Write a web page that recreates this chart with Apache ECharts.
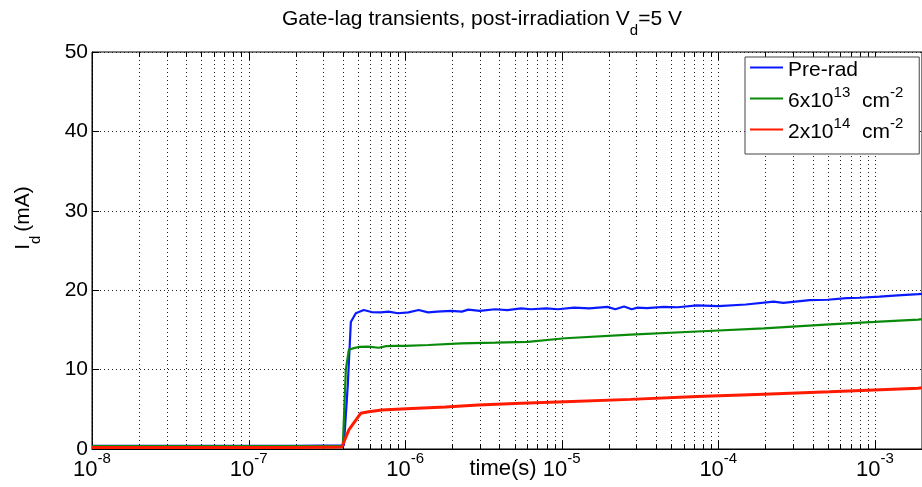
<!DOCTYPE html>
<html><head><meta charset="utf-8">
<script src="https://cdn.jsdelivr.net/npm/echarts@6/dist/echarts.min.js"></script>
<style>html,body{margin:0;padding:0;background:#fff}#c{width:922px;height:487px}</style>
</head><body><div id="c"></div>
<script>
// ---- data ----
const seriesNames = ['Pre-rad', '6x10^13 cm^-2', '2x10^14 cm^-2'];
const legendLabels = ['{n|Pre-rad}', '{n|6x10}{s|13}{n|  cm}{s|-2}', '{n|2x10}{s|14}{n|  cm}{s|-2}'];
const seriesColors = ['#0a1aff', '#0a8a0a', '#ff1a00'];

const preRadT = [1e-8, 1e-7, 2e-7, 4.06e-7, 4.3e-7, 4.5e-7, 4.84e-7, 5.44e-7, 6.1e-7, 7e-7, 7.84e-7, 9e-7, 1.05e-6, 1.22e-6, 1.4e-6, 1.6e-6, 1.97e-6, 2.3e-6, 2.53e-6, 3e-6, 3.76e-6, 4.5e-6, 5.5e-6, 6.37e-6, 8e-6, 9.45e-6, 1.2e-5, 1.5e-5, 1.96e-5, 2.2e-5, 2.5e-5, 2.8e-5, 3.05e-5, 3.5e-5, 4.5e-5, 5.5e-5, 7.33e-5, 1e-4, 1.5e-4, 2.26e-4, 2.6e-4, 3.84e-4, 5e-4, 6.59e-4, 8e-4, 1.07e-3, 1.4e-3, 1.89e-3, 2e-3];
const preRadY = [0.4, 0.4, 0.4, 0.45, 8, 16.0, 17.1, 17.5, 17.25, 17.2, 17.3, 17.1, 17.2, 17.5, 17.2, 17.3, 17.4, 17.3, 17.55, 17.4, 17.6, 17.5, 17.7, 17.6, 17.7, 17.6, 17.8, 17.7, 17.9, 17.6, 17.95, 17.6, 17.8, 17.75, 17.9, 17.85, 18.1, 18.0, 18.2, 18.55, 18.4, 18.75, 18.8, 19.0, 19.05, 19.2, 19.35, 19.5, 19.55];

const fluence1T = [1e-8, 1e-7, 2e-7, 4.0e-7, 4.18e-7, 4.37e-7, 4.7e-7, 5.06e-7, 5.8e-7, 6.77e-7, 7.6e-7, 8.69e-7, 1.0e-6, 1.41e-6, 2.28e-6, 3.76e-6, 6.09e-6, 1.05e-5, 2.75e-5, 7.33e-5, 1.95e-4, 5.14e-4, 1e-3, 1.89e-3, 2e-3];
const fluence1Y = [0.35, 0.35, 0.35, 0.4, 10, 12.5, 12.7, 12.85, 12.9, 12.75, 12.95, 13.0, 13.0, 13.1, 13.3, 13.4, 13.5, 13.95, 14.4, 14.8, 15.2, 15.7, 16.0, 16.3, 16.35];

const fluence2T = [1e-8, 1e-7, 2e-7, 3.94e-7, 4.37e-7, 4.84e-7, 5.2e-7, 5.85e-7, 7.08e-7, 1.1e-6, 1.81e-6, 2.93e-6, 5.5e-6, 1.05e-5, 2.75e-5, 7.33e-5, 1.95e-4, 5.14e-4, 1.89e-3, 2e-3];
const fluence2Y = [0.2, 0.2, 0.2, 0.25, 2.4, 3.65, 4.5, 4.7, 4.9, 5.1, 5.3, 5.55, 5.75, 5.95, 6.25, 6.6, 6.9, 7.2, 7.65, 7.7];

const xMin = 1e-8, xMax = 2e-3;
const yMin = 0, yMax = 50, yStep = 10;

// grid line positions of the log axis (1..9 x each decade)
const gridXs = [];
for (let e = -8; e <= -3; e++) for (let k = 1; k <= 9; k++) { const v = k * Math.pow(10, e); if (v <= xMax * 1.0001) gridXs.push([v, k === 1 ? 1 : 0]); }

const FONT = '"Liberation Sans", Arial, Helvetica, sans-serif';
const zip = (a, b) => a.map((t, i) => [t, b[i]]);

const chart = echarts.init(document.getElementById('c'), null, { renderer: 'canvas' });
chart.setOption({
  animation: false,
  backgroundColor: '#fff',
  textStyle: { fontFamily: FONT },
  title: {
    text: '{t|Gate-lag transients, post-irradiation V}{sub|d}{t|=5 V}',
    left: 277, top: 4,
    textStyle: {
      fontWeight: 'normal',
      rich: {
        t: { fontFamily: FONT, fontWeight: 'normal', fontSize: 21, color: '#000', lineHeight: 29, verticalAlign: 'top' },
        sub: { fontFamily: FONT, fontWeight: 'normal', fontSize: 15, color: '#000', lineHeight: 29, verticalAlign: 'bottom' }
      }
    }
  },
  grid: { left: 92, right: -4, top: 52, bottom: 38, show: true, borderColor: '#000', borderWidth: 1, backgroundColor: 'transparent' },
  legend: {
    left: 745, top: 57, orient: 'vertical',
    data: seriesNames,
    itemWidth: 33, itemHeight: 2, itemGap: 4,
    icon: 'rect',
    padding: [3, 16, 11, 5],
    backgroundColor: '#fff', borderColor: '#444', borderWidth: 1,
    formatter: name => legendLabels[seriesNames.indexOf(name)],
    textStyle: {
      rich: {
        n: { fontFamily: FONT, fontSize: 21, color: '#000', lineHeight: 27, verticalAlign: 'bottom' },
        s: { fontFamily: FONT, fontSize: 15, color: '#000', lineHeight: 27, verticalAlign: 'top' }
      }
    }
  },
  xAxis: {
    type: 'log', logBase: 10, min: xMin, max: xMax,
    axisLine: { lineStyle: { color: '#000', width: 1 } },
    axisTick: { show: false }, splitLine: { show: false }, minorTick: { show: false },
    axisLabel: {
      margin: 2, showMaxLabel: false,
      formatter: v => {
        const e = Math.log10(v), r = Math.round(e);
        return Math.abs(e - r) < 1e-6 ? '{b|10}{s|' + r + '}' : '';
      },
      rich: {
        b: { fontFamily: FONT, fontSize: 22, color: '#000', lineHeight: 30, verticalAlign: 'bottom' },
        s: { fontFamily: FONT, fontSize: 15, color: '#000', lineHeight: 30, verticalAlign: 'top' }
      }
    }
  },
  yAxis: {
    type: 'value', min: yMin, max: yMax, interval: yStep,
    axisLine: { show: true, lineStyle: { color: '#000', width: 1 } },
    axisTick: { show: true, inside: true, length: 7, lineStyle: { color: '#000' } },
    axisLabel: { fontFamily: FONT, fontSize: 21, color: '#000', margin: 4 },
    splitLine: { show: true, lineStyle: { color: '#222', type: [1, 3], width: 1 } }
  },
  graphic: [
    { type: 'text', x: 503, y: 469, style: { text: 'time(s)', font: '22px ' + FONT, fill: '#000', align: 'center', verticalAlign: 'middle' } },
    { type: 'text', x: 28, y: 218, rotation: Math.PI / 2,
      style: { text: '{n|I}{s|d}{n|(mA)}', align: 'center', verticalAlign: 'middle',
        rich: { n: { fontFamily: FONT, fontSize: 21, fill: '#000', lineHeight: 30, verticalAlign: 'top' },
                s: { fontFamily: FONT, fontSize: 15, fill: '#000', lineHeight: 30, verticalAlign: 'bottom', padding: [0, 4, 0, 0] } } } }
  ],
  series: [
    {
      type: 'custom', name: 'xgrid', silent: true, z: 1, clip: true,
      data: gridXs,
      renderItem: (params, api) => {
        const x = api.value(0), major = api.value(1) === 1;
        const p0 = api.coord([x, yMin]), p1 = api.coord([x, yMax]);
        const len = major ? 8 : 5;
        const px = Math.round(p0[0]) + 0.5;
        return { type: 'group', children: [
          { type: 'line', shape: { x1: px, y1: p0[1], x2: px, y2: p1[1] }, style: { stroke: '#222', lineWidth: 1, lineDash: [1, 3] } },
          { type: 'line', shape: { x1: px, y1: p0[1], x2: px, y2: p0[1] - len }, style: { stroke: '#000', lineWidth: 1 } },
          { type: 'line', shape: { x1: px, y1: p1[1], x2: px, y2: p1[1] + len }, style: { stroke: '#000', lineWidth: 1 } }
        ] };
      }
    },
    { type: 'line', name: seriesNames[0], data: zip(preRadT, preRadY), showSymbol: false, symbol: 'none', z: 3, lineStyle: { color: seriesColors[0], width: 2.2 }, itemStyle: { color: seriesColors[0] } },
    { type: 'line', name: seriesNames[1], data: zip(fluence1T, fluence1Y), showSymbol: false, symbol: 'none', z: 4, lineStyle: { color: seriesColors[1], width: 2.2 }, itemStyle: { color: seriesColors[1] } },
    { type: 'line', name: seriesNames[2], data: zip(fluence2T, fluence2Y), showSymbol: false, symbol: 'none', z: 5, lineStyle: { color: seriesColors[2], width: 3 }, itemStyle: { color: seriesColors[2] } }
  ]
});
</script></body></html>
